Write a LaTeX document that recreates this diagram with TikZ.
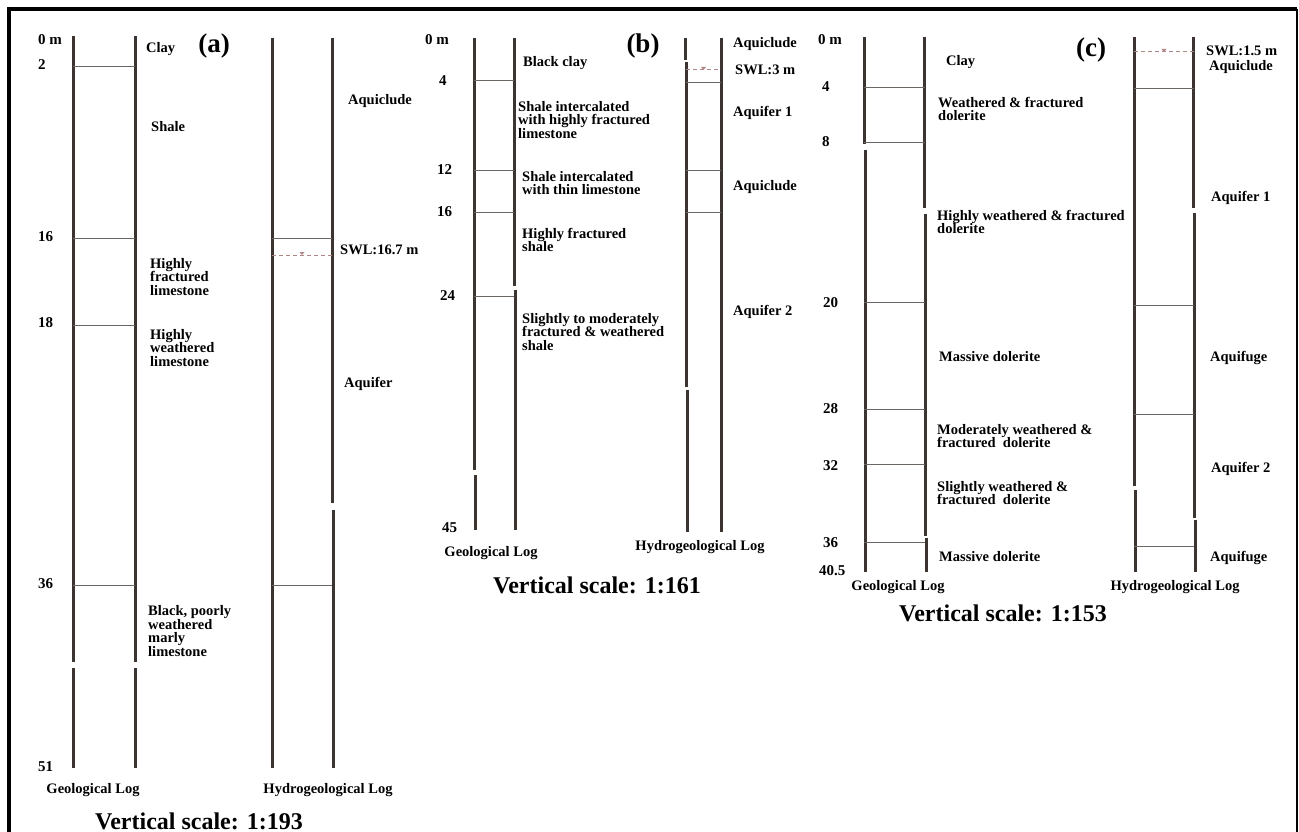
\documentclass[tikz,border=0pt]{standalone}
\usepackage{fontspec}
\setmainfont{Liberation Serif}
\usetikzlibrary{calc}

\definecolor{logline}{RGB}{60,52,48}
\definecolor{swlred}{RGB}{175,135,135}

\tikzset{
 logwall/.style={logline, line width=3pt},
 layer/.style={logline!75, line width=0.9pt},
 swlline/.style={swlred, line width=1pt, dash pattern=on 4pt off 3pt},
 lbl/.style={font=\bfseries\fontsize{14.5}{13.5}\selectfont, anchor=west, align=left, inner sep=0},
 depth/.style={font=\bfseries\fontsize{15}{15}\selectfont, anchor=west, inner sep=0},
 logname/.style={font=\bfseries\fontsize{14.5}{14.5}\selectfont, inner sep=0},
 paneltag/.style={font=\bfseries\fontsize{27}{27}\selectfont, inner sep=0},
 scalelbl/.style={font=\bfseries\fontsize{24}{24}\selectfont, inner sep=0},
}

% water level: dashed line with a small triangle in the middle
\newcommand{\waterlevel}[3]{%
 \draw[swlred, line width=1pt, dash pattern=on 4pt off 3pt] (#1,#3) -- (#2,#3);
 \fill[swlred] ($(#1,#3)!.5!(#2,#3)+(-2.5,-3)$) -- ++(5,0) -- ++(-2.5,3) -- cycle;
}

\begin{document}
\begin{tikzpicture}[x=1pt,y=-1pt]
\useasboundingbox (0,0) rectangle (1299,832);
\fill[white] (0,0) rectangle (1299,832);
\draw[line width=4pt] (9,832) -- (9,9) -- (1297,9);
\draw[line width=2pt] (1297,9) -- (1297,832);

% (a)
\foreach \x/\a/\b in {73/36/662, 73/668/768, 135/36/662, 135/668/768, 272/38/768, 332/38/503, 333/510/768}
 \draw[logwall] (\x,\a) -- (\x,\b);
\foreach \y in {66,238,325,585} \draw[layer] (73,\y) -- (135,\y);
\foreach \y in {238,585} \draw[layer] (272,\y) -- (332,\y);
\waterlevel{272}{332}{255}
\foreach \y/\d [count=\i] in {40/0 m, 65/2, 237/16, 323/18, 584/36, 767/51}
 \node[depth] (a-d\i) at (38,\y) {\d};
\node[paneltag] (a-tag) at (214,46) {(a)};
\node[lbl] (a-clay) at (146,49) {Clay};
\node[lbl] (a-shale) at (151,127) {Shale};
\node[lbl] (a-hfl) at (150,277) {Highly\\fractured\\limestone};
\node[lbl] (a-hwl) at (150,348) {Highly\\weathered\\limestone};
\node[lbl] (a-bpw) at (148,631) {Black, poorly\\weathered\\marly\\limestone};
\node[lbl] (a-aqc) at (348,101) {Aquiclude};
\node[lbl] (a-swl) at (340,250) {SWL:16.7 m};
\node[lbl] (a-aqf) at (344,384) {Aquifer};
\node[logname] (a-geo) at (93,790) {Geological Log};
\node[logname] (a-hyd) at (328,790) {Hydrogeological Log};
\node[scalelbl] (a-scale) at (199,821) {Vertical scale: 1:193};

% (b)
\foreach \x/\a/\b in {474/38/470, 475/475/530, 514/38/286, 515/290/530, 685/38/60, 686/62/387, 687/390/532, 721/38/532}
 \draw[logwall] (\x,\a) -- (\x,\b);
\foreach \y in {80,170,212,296} \draw[layer] (474,\y) -- (514,\y);
\foreach \y in {82,170,212} \draw[layer] (686,\y) -- (721,\y);
\waterlevel{686}{721}{70}
\foreach \x/\y/\d [count=\i] in {425/40/0 m, 439/81/4, 437/170/12, 437/212/16, 440/296/24, 442/528/45}
 \node[depth] (b-d\i) at (\x,\y) {\d};
\node[paneltag] (b-tag) at (643,46) {(b)};
\node[lbl] (b-bc) at (523,63) {Black clay};
\node[lbl] (b-shf) at (518,120) {Shale intercalated\\with highly fractured\\limestone};
\node[lbl] (b-stl) at (522,183) {Shale intercalated\\with thin limestone};
\node[lbl] (b-hfs) at (522,240) {Highly fractured\\shale};
\node[lbl] (b-smf) at (522,332) {Slightly to moderately\\fractured \& weathered\\shale};
\node[lbl] (b-aqc1) at (733,44) {Aquiclude};
\node[lbl] (b-swl) at (735,70) {SWL:3 m};
\node[lbl] (b-aqf1) at (733,113) {Aquifer 1};
\node[lbl] (b-aqc2) at (733,187) {Aquiclude};
\node[lbl] (b-aqf2) at (733,312) {Aquifer 2};
\node[logname] (b-geo) at (491,553) {Geological Log};
\node[logname] (b-hyd) at (700,547) {Hydrogeological Log};
\node[scalelbl] (b-scale) at (597,585) {Vertical scale: 1:161};

% (c)
\foreach \x/\a/\b in {864/37/144, 865/150/572, 924/37/208, 925/214/536, 926/538/572, 1134/37/486, 1135/490/572, 1193/37/208, 1194/213/518, 1195/520/572}
 \draw[logwall] (\x,\a) -- (\x,\b);
\foreach \y in {87,142,302,409,464,542} \draw[layer] (864,\y) -- (925,\y);
\foreach \y in {88,305,414,546} \draw[layer] (1134,\y) -- (1194,\y);
\waterlevel{1134}{1194}{52}
\foreach \x/\y/\d [count=\i] in {818/40/0 m, 822/87/4, 822/142/8, 823/303/20, 823/409/28, 823/466/32, 823/543/36, 819/571/40.5}
 \node[depth] (c-d\i) at (\x,\y) {\d};
\node[paneltag] (c-tag) at (1091,50) {(c)};
\node[lbl] (c-clay) at (946,62) {Clay};
\node[lbl] (c-wfd) at (938,109) {Weathered \& fractured\\dolerite};
\node[lbl] (c-hwd) at (937,222) {Highly weathered \& fractured\\dolerite};
\node[lbl] (c-md1) at (939,357) {Massive dolerite};
\node[lbl] (c-mwd) at (937,436) {Moderately weathered \&\\fractured\ \ dolerite};
\node[lbl] (c-swd) at (937,493) {Slightly weathered \&\\fractured\ \ dolerite};
\node[lbl] (c-md2) at (939,557) {Massive dolerite};
\node[lbl] (c-swl) at (1206,51) {SWL:1.5 m};
\node[lbl] (c-aqc) at (1209,67) {Aquiclude};
\node[lbl] (c-aqf1) at (1211,198) {Aquifer 1};
\node[lbl] (c-agf1) at (1210,358) {Aquifuge};
\node[lbl] (c-aqf2) at (1211,469) {Aquifer 2};
\node[lbl] (c-agf2) at (1210,558) {Aquifuge};
\node[logname] (c-geo) at (898,587) {Geological Log};
\node[logname] (c-hyd) at (1175,587) {Hydrogeological Log};
\node[scalelbl] (c-scale) at (1003,613) {Vertical scale: 1:153};
\end{tikzpicture}
\end{document}
